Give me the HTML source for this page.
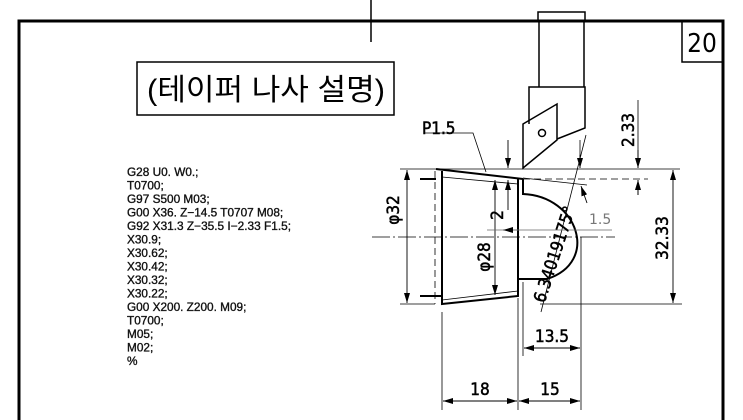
<!DOCTYPE html>
<html><head><meta charset="utf-8"><style>
html,body{margin:0;padding:0;background:#fff;width:743px;height:420px;overflow:hidden}
svg{display:block}
.code{font-family:"Liberation Sans",sans-serif;font-size:11.8px;fill:#111;stroke:#111;stroke-width:0.35}
.dim{font-family:"DejaVu Sans Condensed","DejaVu Sans",sans-serif;font-stretch:condensed;font-size:17px;fill:#000;stroke:#000;stroke-width:0.5}
</style></head><body>
<svg width="743" height="420" viewBox="0 0 743 420" xmlns="http://www.w3.org/2000/svg">
<defs>
<marker id="a" viewBox="0 0 10 6" refX="10" refY="3" markerWidth="10" markerHeight="6" markerUnits="userSpaceOnUse" orient="auto-start-reverse"><path d="M0,0 L10,3 L0,6 z" fill="#000"/></marker>
</defs>
<path d="M19,420 V21 H723 V420" fill="none" stroke="#000" stroke-width="3"/>
<line x1="371" y1="0" x2="371" y2="42" stroke="#000" stroke-width="1.5"/>
<rect x="137" y="62" width="257" height="53" fill="none" stroke="#000" stroke-width="1.5"/>
<text x="266" y="100" text-anchor="middle" font-family="'Liberation Sans','Noto Sans CJK KR',sans-serif" font-size="30" fill="#000" textLength="238" lengthAdjust="spacingAndGlyphs">(테이퍼 나사 설명)</text>
<rect x="682" y="21" width="41" height="41" fill="none" stroke="#000" stroke-width="1.5"/>
<text x="702" y="52" text-anchor="middle" font-family="'DejaVu Sans Condensed','DejaVu Sans',sans-serif" font-size="26" fill="#000">20</text>
<g class="code">
<text x="127" y="176">G28 U0. W0.;</text>
<text x="127" y="189.5">T0700;</text>
<text x="127" y="203">G97 S500 M03;</text>
<text x="127" y="216.5">G00 X36. Z−14.5 T0707 M08;</text>
<text x="127" y="230" textLength="164" lengthAdjust="spacingAndGlyphs">G92 X31.3 Z−35.5 I−2.33 F1.5;</text>
<text x="127" y="243.5">X30.9;</text>
<text x="127" y="257">X30.62;</text>
<text x="127" y="270.5">X30.42;</text>
<text x="127" y="284">X30.32;</text>
<text x="127" y="297.5">X30.22;</text>
<text x="127" y="311">G00 X200. Z200. M09;</text>
<text x="127" y="324.5">T0700;</text>
<text x="127" y="338">M05;</text>
<text x="127" y="351.5">M02;</text>
<text x="127" y="365">%</text>
</g>
<g fill="none" stroke="#000" stroke-width="1.5">
<rect x="538" y="12" width="47" height="9"/>
<path d="M539,21 V87 M584,21 V87"/>
<path d="M529,124 V87 H585 V128 L557,139"/>
<path d="M523,124 L557,104 V140 L523,168 Z"/>
<circle cx="542" cy="133" r="3.5"/>
</g>
<g fill="none" stroke="#000" stroke-width="2">
<path d="M436,169 L523,179"/>
<path d="M442,171 V304 L518,296 V179"/>
<path d="M523,179 V195"/>
<path d="M523,194 C578,196 600,262 547,279 L518,279"/>
<path d="M420,179 H436 M420,296 H442"/>
</g>
<g fill="none" stroke="#000" stroke-width="0.8">
<path d="M442,177 L518,184"/>
<path d="M442,300 L518,291"/>
<path d="M400,169 H680"/>
<path d="M400,304 H435 M540,304 H682"/>
<path d="M523,179 H648" stroke-dasharray="7,4"/>
<path d="M435,171 V304" stroke-dasharray="7,4"/>
<path d="M372,237 H615" stroke-dasharray="18,3,2,3"/>
<path d="M523,178 L587,185"/>
<path d="M580,140 V168"/>
<path d="M586,135 L541,312"/>
<path d="M523,282 V356 M581,237 V410 M442,312 V410 M518,298 V410"/>
<path d="M425,133 H473 L486,172"/>
<path d="M638,100 V168 M638,180 V195"/>
</g>
<g stroke="#000" stroke-width="0.9" fill="none">
<line x1="407" y1="185" x2="407" y2="170" marker-end="url(#a)"/>
<line x1="407" y1="285" x2="407" y2="303" marker-end="url(#a)"/>
<line x1="407" y1="185" x2="407" y2="285"/>
<line x1="495" y1="180" x2="495" y2="295" marker-start="url(#a)" marker-end="url(#a)"/>
<line x1="508" y1="140" x2="508" y2="168" marker-end="url(#a)"/>
<line x1="508" y1="210" x2="508" y2="180" marker-end="url(#a)"/>
<line x1="580" y1="155" x2="580" y2="168" marker-end="url(#a)"/>
<line x1="587" y1="203" x2="581" y2="186" marker-end="url(#a)"/>
<line x1="638" y1="150" x2="638" y2="168" marker-end="url(#a)"/>
<line x1="638" y1="195" x2="638" y2="180" marker-end="url(#a)"/>
<line x1="673" y1="170" x2="673" y2="303" marker-start="url(#a)" marker-end="url(#a)"/>
<line x1="524" y1="348" x2="580" y2="348" marker-start="url(#a)" marker-end="url(#a)"/>
<line x1="443" y1="401" x2="517" y2="401" marker-start="url(#a)" marker-end="url(#a)"/>
<line x1="519" y1="401" x2="580" y2="401" marker-start="url(#a)" marker-end="url(#a)"/>
</g>
<g stroke="#666" stroke-width="0.8" fill="none">
<line x1="487" y1="230" x2="612" y2="230"/>
<line x1="503" y1="230" x2="518" y2="230" marker-start="url(#a)"/>
</g>
<text x="422" y="134" class="dim">P1.5</text>
<text class="dim" transform="translate(399,210) rotate(-90)" text-anchor="middle">φ32</text>
<text class="dim" transform="translate(490,257) rotate(-90)" text-anchor="middle">φ28</text>
<text class="dim" transform="translate(503,215) rotate(-90)" text-anchor="middle">2</text>
<text class="dim" transform="translate(634,130) rotate(-90)" text-anchor="middle">2.33</text>
<text class="dim" transform="translate(668,238) rotate(-90)" text-anchor="middle">32.33</text>
<text class="dim" transform="translate(560,256) rotate(-72)" text-anchor="middle">6.34019175°</text>
<text x="589" y="224" font-family="'DejaVu Sans',sans-serif" font-size="14" fill="#777">1.5</text>
<text x="552" y="342" class="dim" text-anchor="middle">13.5</text>
<text x="480" y="395" class="dim" text-anchor="middle">18</text>
<text x="550" y="395" class="dim" text-anchor="middle">15</text>
</svg>
</body></html>
